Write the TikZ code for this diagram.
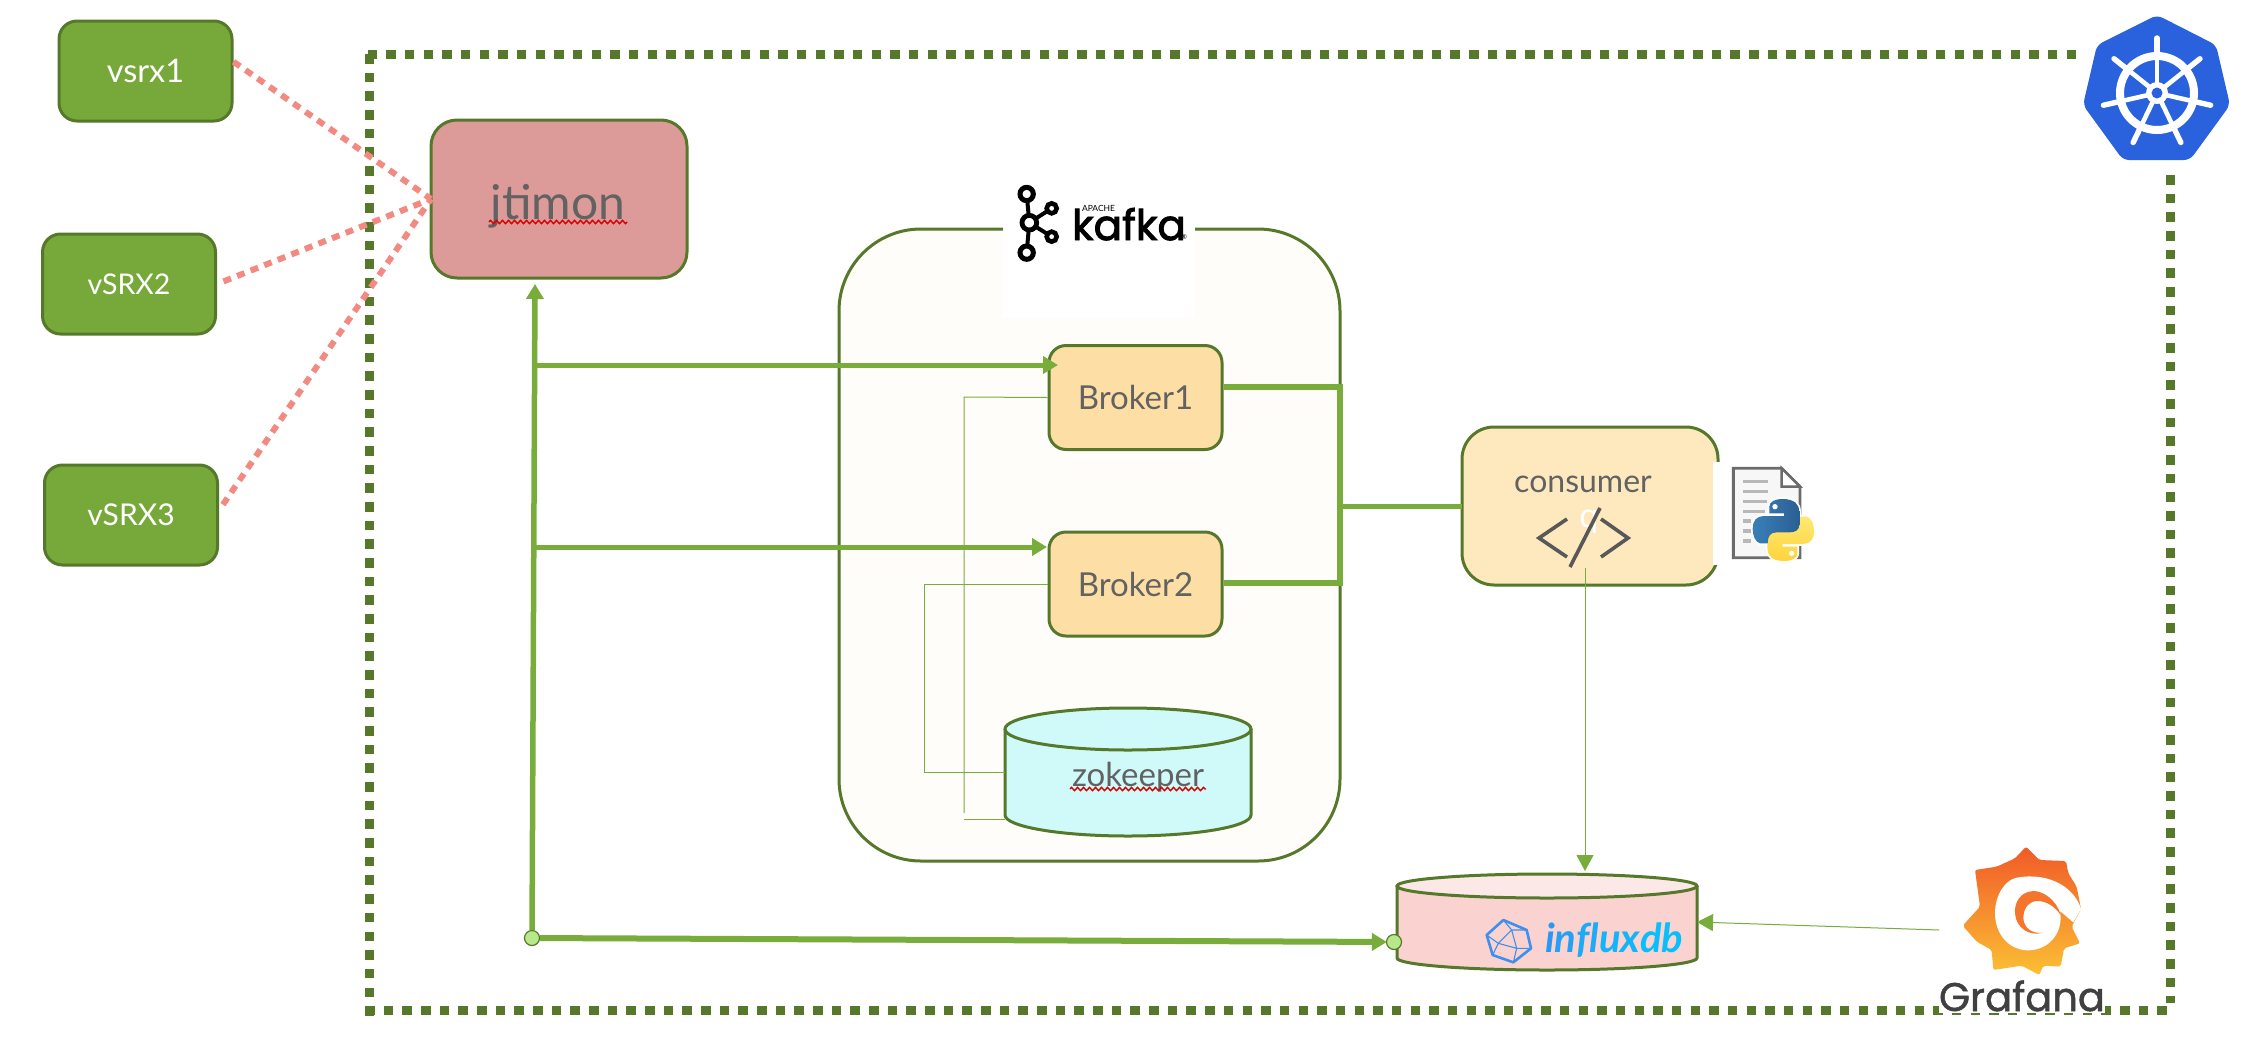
\documentclass[tikz,border=0pt]{standalone}
\usepackage{fontspec}
\setmainfont{Lato}
\newfontfamily\popfont[FakeBold=1.2]{Poppins}
\newfontfamily\popheavy[FakeBold=2.2]{Poppins}
\usetikzlibrary{arrows.meta,decorations.pathmorphing,shapes.geometric}
\definecolor{boxgreen}{HTML}{76A93A}
\definecolor{edgegreen}{HTML}{56782B}
\definecolor{linegreen}{HTML}{78AC3B}
\definecolor{redline}{HTML}{F28A82}
\definecolor{txt}{HTML}{626262}
\definecolor{kblue}{HTML}{2A62DE}
\definecolor{brokerfill}{HTML}{FDDFA5}
\definecolor{dotfill}{HTML}{B9E88A}
\definecolor{jtfill}{HTML}{DC9A98}
\definecolor{consfill}{HTML}{FEE9BE}
\definecolor{kafkafill}{HTML}{FFFDF9}
\definecolor{zkfill}{HTML}{D0FAFA}
\definecolor{pyyA}{HTML}{FFE873}
\definecolor{pyyB}{HTML}{FFD43B}
\definecolor{py1}{HTML}{3A7FB8}
\definecolor{py2}{HTML}{2A5F94}
\definecolor{infl}{HTML}{FAD3D0}
\definecolor{inflTop}{HTML}{FCE8E6}
\definecolor{inflb}{HTML}{3F8FEF}
\definecolor{fl1}{HTML}{2A97F4}
\definecolor{fl2}{HTML}{24A0F5}
\definecolor{fl3}{HTML}{1EAAF7}
\definecolor{fl4}{HTML}{14B4F9}
\definecolor{fl5}{HTML}{0ABEFC}
\definecolor{grafTop}{HTML}{F15A28}
\definecolor{grafMid}{HTML}{F58A2C}
\definecolor{grafBot}{HTML}{FBC034}
\definecolor{grafIn}{HTML}{F4752B}
\tikzset{
  vsrxbox/.style={draw=edgegreen,line width=3pt,fill=boxgreen,rounded corners=18pt,minimum width=173pt,minimum height=100pt,inner sep=0pt,text=white},
  brokerbox/.style={draw=edgegreen,line width=3pt,fill=brokerfill,rounded corners=17pt,minimum width=173pt,minimum height=104pt,inner sep=0pt,text=txt,font=\fontsize{33}{35}\selectfont},
  cyl/.style={draw=edgegreen,line width=3pt},
  fatline/.style={draw=linegreen,line width=5pt},
  fatarrow/.style={fatline,-{Triangle[length=15pt,width=17pt]}},
  thinline/.style={draw=linegreen,line width=1pt},
  thinarrow/.style={thinline,-{Triangle[length=16pt,width=17pt]}},
  reddash/.style={draw=redline,line width=6pt,dash pattern=on 8pt off 6.6pt},
  framedash/.style={draw=edgegreen,line width=9pt,dash pattern=on 9.5pt off 9.17pt},
  dotnode/.style={circle,draw=edgegreen,line width=1.2pt,fill=dotfill,minimum size=15pt,inner sep=0pt},
  squiggle/.style={draw=red!85!black,line width=1.4pt,decorate,decoration={zigzag,amplitude=1.6pt,segment length=6pt}},
  plain/.style={inner sep=0pt,outer sep=0pt},
}
\begin{document}
\begin{tikzpicture}[x=1pt,y=-1pt]
\useasboundingbox (0,0) rectangle (2262,1058);
\fill[white] (0,0) rectangle (2262,1058);

% dashed frame
\draw[framedash] (2076,54) -- (365,54);
\draw[framedash] (369.5,54) -- (369.5,1016);
\draw[framedash] (365,1010) -- (2167,1010);
\draw[framedash] (2170,175) -- (2170,1003);

% kafka container
\node[draw=edgegreen,line width=3pt,fill=kafkafill,rounded corners=82pt,minimum width=501pt,minimum height=632pt,plain] (kafka) at (1089.5,545) {};
\fill[white] (1003,170) rectangle (1195,318);

% kafka logo
\begin{scope}[shift={(1000,170)},x=.3333pt,y=-.3333pt]
  \draw[black,line width=4pt] (80,72) -- (88,158) -- (80,248);
  \draw[black,line width=4pt] (88,158) -- (155,115) (88,158) -- (155,200);
  \foreach \cx/\cy/\rr/\ww in {80/72/20/5,80/248/20/5,88/158/22/4.8,155/115/15/4.6,155/200/15/4.6}{
    \draw[black,fill=white,line width=\ww pt] (\cx,\cy) circle[radius=\rr];
  }
\end{scope}
\node[plain,anchor=base west,font=\popheavy\fontsize{42}{42}\selectfont,text=black] (kafkatxt) at (1072,240) {kafka};
\node[plain,anchor=base west,font=\fontsize{8.5}{9}\selectfont,text=black] (apache) at (1082,211) {APACHE};
\node[plain,font=\fontsize{7}{7}\selectfont,text=black] (regmark) at (1184,237) {®};

% brokers
\node[brokerbox] (br1) at (1135.5,397.5) {Broker1};
\node[brokerbox] (br2) at (1135.5,584) {Broker2};

% zookeeper cylinder
\path[cyl,fill=zkfill] (1005,729) -- (1005,815) arc[start angle=180,end angle=0,x radius=123,y radius=21] -- (1251,729);
\path[cyl,fill=zkfill] (1128,729) ellipse[x radius=123,y radius=21];
\node[plain,minimum width=246pt,minimum height=128pt] (zk) at (1128,772) {};
\node[plain,text=txt,font=\fontsize{33}{35}\selectfont] (zktxt) at (1138,777) {zokeeper};
\draw[squiggle] (1070,789) -- (1206,789);

% thin zookeeper links
\coordinate (zkcorner1) at (964,813);
\draw[thinline] (br1.west) -- (964,397) -- (zkcorner1);
\coordinate (zklow) at (964,819);
\draw[thinline] (zklow) -- (zk.west |- zklow);
\draw[thinline] (br2.west) -- (924,584) -- (924,772) -- (zk.west);

% jtimon
\node[draw=edgegreen,line width=3pt,fill=jtfill,rounded corners=26pt,minimum width=256pt,minimum height=158pt,plain] (jt) at (559,199) {};
\node[plain,text=txt,font=\fontsize{48}{50}\selectfont,anchor=base] (jttxt) at (558,219) {jtimon};
\draw[squiggle] (489,222) -- (627,222);

% vsrx
\node[vsrxbox,font=\fontsize{32.5}{34}\selectfont] (v1) at (145.5,71) {vsrx1};
\node[vsrxbox,font=\fontsize{28.5}{30}\selectfont] (v2) at (129,284) {vSRX2};
\node[vsrxbox,font=\fontsize{30}{32}\selectfont] (v3) at (131,515) {vSRX3};

\draw[reddash] (v1.6) -- (jt.west);
\draw[reddash,shorten <=7pt] (v2.east) -- (jt.west);
\draw[reddash,shorten <=7pt] (v3.3) -- (jt.west);

% consumer
\node[draw=edgegreen,line width=3pt,fill=consfill,rounded corners=32pt,minimum width=256pt,minimum height=158pt,plain] (cons) at (1590,506) {};
\node[plain,text=txt,font=\fontsize{32}{34}\selectfont] (constxt) at (1583,484) {consumer};
\node[plain,text=white,font=\fontsize{34}{34}\selectfont] (consq) at (1589,522) {q};
\draw[draw=txt!90!black,line width=3.6pt] (1567,519) -- (1539,538) -- (1567,557);
\draw[draw=txt!90!black,line width=3.6pt] (1601,519) -- (1628,538) -- (1601,557);
\draw[draw=txt!90!black,line width=3.6pt] (1600,508) -- (1570,567);

% python document
\fill[white] (1713,462) rectangle (1815,565);
\begin{scope}[shift={(1720,455)},x=.3333pt,y=-.3333pt]
  \draw[draw=black!58,fill=black!3,line width=2.8pt] (40,40) -- (185,40) -- (240,95) -- (240,308) -- (40,308) -- cycle;
  \draw[draw=black!58,fill=white,line width=2.4pt] (185,40) -- (185,95) -- (240,95) -- cycle;
  \foreach \yy/\xe in {80/145,110/145,140/140,170/135,198/92,228/92,258/92}{
    \draw[black!28,line width=3.2pt] (68,\yy) -- (\xe,\yy);
  }
  \def\pyshape{(188,132) .. controls (225,132) and (238,150) .. (238,170) -- (238,210) .. controls (238,225) and (225,232) .. (210,232) -- (170,232) .. controls (150,232) and (143,245) .. (143,265) -- (120,265) .. controls (105,262) and (98,240) .. (98,222) .. controls (98,195) and (110,185) .. (130,183) -- (192,183) -- (192,175) -- (148,175) -- (148,155) .. controls (148,140) and (165,132) .. (188,132) -- cycle}
  \draw[white,line width=3.5pt,fill=white] \pyshape;
  \begin{scope}[rotate around={180:(190,225)}]
    \draw[white,line width=3.5pt,fill=white] \pyshape;
    \shade[top color=pyyA,bottom color=pyyB] \pyshape;
    \fill[white] (165,155) circle[radius=8];
  \end{scope}
  \shade[left color=py1,right color=py2] \pyshape;
  \fill[white] (165,155) circle[radius=8];
\end{scope}

% influxdb
\path[cyl,fill=infl] (1397,886) -- (1397,958) arc[start angle=180,end angle=0,x radius=150,y radius=12] -- (1697,886);
\path[cyl,fill=inflTop] (1547,886) ellipse[x radius=150,y radius=12];
\node[plain,minimum width=300pt,minimum height=96pt] (influx) at (1547,922) {};
\begin{scope}[shift={(1470,905)},x=.3333pt,y=-.3333pt]
  \draw[draw=inflb,line width=2.6pt,line join=round] (100,45) -- (170,75) -- (183,130) -- (130,172) -- (68,150) -- (50,90) -- cycle;
  \draw[draw=inflb,line width=1.1pt] (100,45) -- (125,75) -- (170,75) (125,75) -- (140,130) -- (183,130) (140,130) -- (85,115) -- (50,90) (85,115) -- (68,150) (140,130) -- (130,172) (125,75) -- (85,115);
\end{scope}
\node[plain,anchor=base west,font=\bfseries\itshape\fontsize{40}{40}\selectfont] (influxtxt) at (1545,952) {\textcolor{fl1}{i}\textcolor{fl2}{n}\textcolor{fl3}{f}\textcolor{fl3}{l}\textcolor{fl4}{u}\textcolor{fl4}{x}\textcolor{fl5}{d}\textcolor{fl5}{b}};

% grafana
\fill[white] (1939,985) rectangle (2105,1012.5);
\begin{scope}[shift={(1940,835)},x=.3333pt,y=-.3333pt]
  \shade[top color=grafTop,middle color=grafMid,bottom color=grafBot,rounded corners=2pt]
    (258,35) -- (298,75) -- (378,78) -- (385,115) -- (410,155) -- (423,222) -- (395,275) -- (420,325) -- (372,340) -- (362,395) -- (310,392) -- (298,420) -- (245,392) -- (160,405) -- (155,345) -- (110,320) -- (68,272) -- (120,215) -- (105,105) -- (170,95) -- (225,70) -- cycle;
  \fill[white] (230,128) .. controls (330,110) and (405,160) .. (423,222) -- (400,262) -- (360,228) .. controls (372,300) and (320,346) .. (265,346) .. controls (205,346) and (165,295) .. (165,235) .. controls (165,180) and (195,135) .. (230,128) -- cycle;
  \fill[grafIn] (362,240) .. controls (350,195) and (310,168) .. (280,168) .. controls (240,170) and (222,205) .. (225,235) .. controls (228,280) and (270,305) .. (308,293) .. controls (280,298) and (248,280) .. (250,245) .. controls (252,215) and (270,198) .. (292,198) .. controls (320,198) and (345,215) .. (362,240) -- cycle;
\end{scope}
\node[plain,anchor=base west,text=black!75,font=\popfont\fontsize{40}{40}\selectfont] (graftxt) at (1939,1011) {Grafana};
\coordinate (grafout) at (1939,930);
\coordinate (graftip) at (1697,922);
\draw[thinarrow] (grafout) -- (graftip);

% kubernetes
\fill[kblue,rounded corners=6pt] (2157,15) -- (2216,45) -- (2230,105) -- (2190,160) -- (2123,160) -- (2083,105) -- (2097,45) -- cycle;
\draw[white,line width=8pt] (2157,93) circle[radius=37];
\foreach \k in {0,...,6}{
  \pgfmathsetmacro{\a}{-90+\k*360/7}
  \draw[white,line width=4.6pt] ({2157+8*cos(\a)},{93+8*sin(\a)}) -- ({2157+40*cos(\a)},{93+40*sin(\a)});
  \draw[white,line width=5.4pt,line cap=round] ({2157+38*cos(\a)},{93+38*sin(\a)}) -- ({2157+55*cos(\a)},{93+55*sin(\a)});
}
\fill[white] (2157,93) circle[radius=11];
\fill[kblue] (2157,93) circle[radius=5.5];

% green connectors
\node[dotnode] (d1) at (532,938) {};
\coordinate (jtin) at (535,284);
\coordinate (tb1) at (535,365);
\coordinate (tb2) at (535,547);
\coordinate (bh1) at (1058,365);
\coordinate (bh2) at (1047,547);
\draw[fatarrow] (tb1) -- (bh1);
\draw[fatarrow] (tb2) -- (bh2);
\coordinate (bus1) at (1340,387);
\coordinate (bus2) at (1340,583);
\coordinate (bus3) at (1340,506);
\draw[fatline,line width=5.5pt] (br1.east |- bus1) -- (bus1) -- (bus2) -- (br2.east |- bus2);
\draw[fatline] (bus3) -- (cons.west);
\coordinate (consout) at (1585,568);
\coordinate (infltip) at (1585,871);
\draw[thinarrow] (consout) -- (infltip);
\draw[fatarrow,line width=5.5pt] (d1) -- (jtin);
\node[dotnode] (d2) at (1394,942) {};
\draw[fatarrow,line width=6pt,shorten >=-1pt] (d1) -- (d2);
\end{tikzpicture}
\end{document}
